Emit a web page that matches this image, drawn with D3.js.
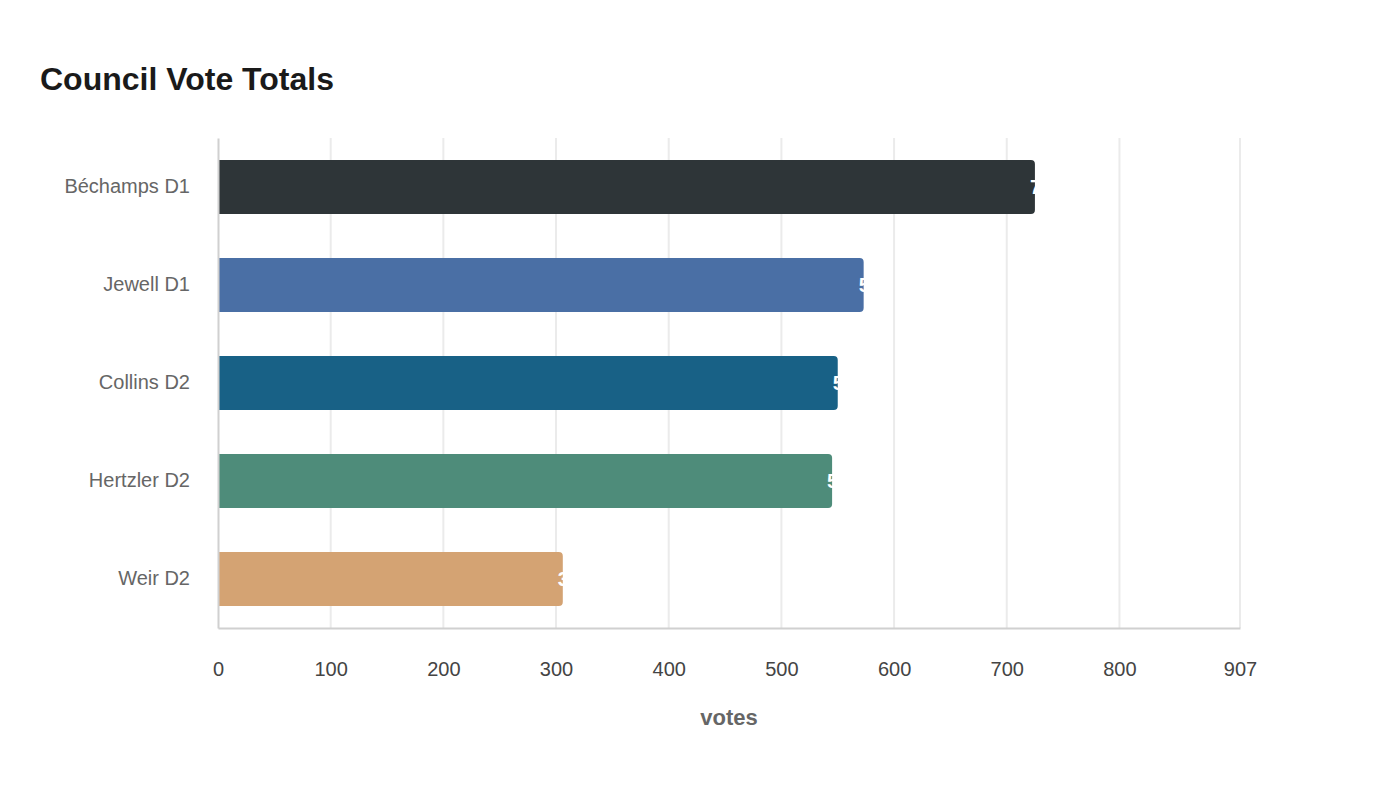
<!DOCTYPE html>
<html>
<head>
<meta charset="utf-8">
<script src="https://cdn.jsdelivr.net/npm/d3@7"></script>
<style>
  body { margin: 0; background: #fff; font-family: "Liberation Sans", Arial, sans-serif; }
</style>
</head>
<body>
<svg width="1400" height="800"></svg>
<script>
var names = ['Béchamps D1', 'Jewell D1', 'Collins D2', 'Hertzler D2', 'Weir D2'];
var votes = [725, 573, 550, 545, 306];
var colors = ['#2e3538', '#4a6fa5', '#186186', '#4e8c7a', '#d4a373'];
var xTicks = [0, 100, 200, 300, 400, 500, 600, 700, 800, 907];

var svg = d3.select('svg');
var plotLeft = 218, plotRight = 1240, plotTop = 138, plotBottom = 628;

var x = d3.scaleLinear().domain([0, 907]).range([plotLeft, plotRight]);
var y = d3.scaleBand().domain(names).range([plotTop, plotBottom])
    .paddingInner(0.45).paddingOuter(0.225);

svg.append('text')
    .attr('x', 40).attr('y', 90)
    .attr('font-size', 32).attr('font-weight', 'bold').attr('fill', '#1a1a1a')
    .text('Council Vote Totals');

// grid
svg.append('g').selectAll('line')
    .data(xTicks.slice(1))
    .join('line')
    .attr('x1', d => x(d)).attr('x2', d => x(d))
    .attr('y1', plotTop).attr('y2', plotBottom)
    .attr('stroke', '#ebebeb').attr('stroke-width', 2);

var rows = names.map((n, i) => ({ name: n, v: votes[i], c: colors[i] }));

svg.append('g').selectAll('path')
    .data(rows)
    .join('path')
    .attr('fill', d => d.c)
    .attr('d', d => {
        var x0 = x(0), x1 = x(d.v), y0 = y(d.name), h = y.bandwidth(), r = 4;
        return 'M' + x0 + ',' + y0 + 'H' + (x1 - r) + 'Q' + x1 + ',' + y0 + ' ' + x1 + ',' + (y0 + r) +
            'V' + (y0 + h - r) + 'Q' + x1 + ',' + (y0 + h) + ' ' + (x1 - r) + ',' + (y0 + h) + 'H' + x0 + 'Z';
    });

svg.append('g').selectAll('text')
    .data(rows)
    .join('text')
    .attr('x', d => x(d.v) - 5)
    .attr('y', d => y(d.name) + y.bandwidth() / 2)
    .attr('dy', '0.35em')
    .attr('font-size', 20).attr('font-weight', 'bold').attr('fill', '#fff')
    .text(d => d.v);

// axes
var xAxis = svg.append('g')
    .attr('transform', 'translate(0,' + plotBottom + ')')
    .call(d3.axisBottom(x).tickValues(xTicks).tickSize(0).tickPadding(34).tickFormat(d3.format('d')));
xAxis.select('.domain').attr('stroke', '#d0d0d0').attr('stroke-width', 2);
xAxis.selectAll('text').attr('font-size', 20).attr('fill', '#444').attr('font-family', 'Liberation Sans, Arial, sans-serif');

var yAxis = svg.append('g')
    .attr('transform', 'translate(' + plotLeft + ',0)')
    .call(d3.axisLeft(y).tickSize(0).tickPadding(28));
yAxis.select('.domain').attr('stroke', '#d0d0d0').attr('stroke-width', 2);
yAxis.selectAll('text').attr('font-size', 20).attr('fill', '#666').attr('font-family', 'Liberation Sans, Arial, sans-serif');

svg.append('text')
    .attr('x', (plotLeft + plotRight) / 2).attr('y', 725)
    .attr('text-anchor', 'middle')
    .attr('font-size', 22).attr('font-weight', 'bold').attr('fill', '#666')
    .text('votes');
</script>
</body>
</html>
